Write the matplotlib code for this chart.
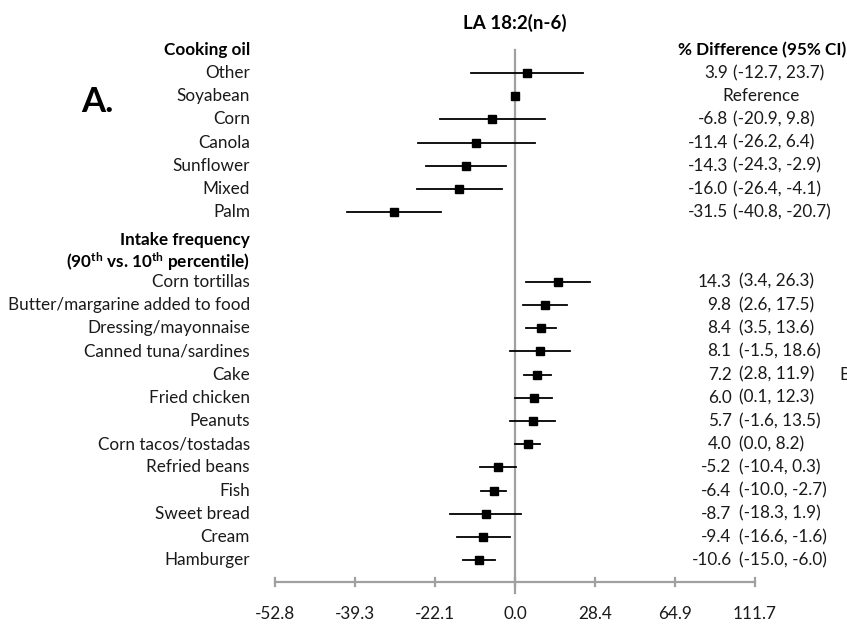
import numpy as np
import matplotlib.pyplot as plt

plt.rcParams['font.family'] = ['Lato', 'DejaVu Sans']
plt.rcParams['mathtext.default'] = 'regular'

# Cooking oil (Soyabean is the reference category)
oil_labels = ['Other', 'Soyabean', 'Corn', 'Canola', 'Sunflower', 'Mixed', 'Palm']
oil_est = [3.9, 0.0, -6.8, -11.4, -14.3, -16.0, -31.5]
oil_lo = [-12.7, None, -20.9, -26.2, -24.3, -26.4, -40.8]
oil_hi = [23.7, None, 9.8, 6.4, -2.9, -4.1, -20.7]

# Intake frequency, 90th vs. 10th percentile
food_labels = ['Corn tortillas', 'Butter/margarine added to food',
               'Dressing/mayonnaise', 'Canned tuna/sardines', 'Cake',
               'Fried chicken', 'Peanuts', 'Corn tacos/tostadas',
               'Refried beans', 'Fish', 'Sweet bread', 'Cream', 'Hamburger']
food_est = [14.3, 9.8, 8.4, 8.1, 7.2, 6.0, 5.7, 4.0, -5.2, -6.4, -8.7, -9.4, -10.6]
food_lo = [3.4, 2.6, 3.5, -1.5, 2.8, 0.1, -1.6, 0.0, -10.4, -10.0, -18.3, -16.6, -15.0]
food_hi = [26.3, 17.5, 13.6, 18.6, 11.9, 12.3, 13.5, 8.2, 0.3, -2.7, 1.9, -1.6, -6.0]

tick_logs = [-0.75, -0.5, -0.25, 0.0, 0.25, 0.5, 0.75]


def to_log(pct):
    # percent difference -> log ratio scale
    return np.log(1 + np.asarray(pct, dtype=float) / 100.0)


fig = plt.figure(figsize=(8.47, 6.26), dpi=100)
ax = fig.add_axes([0, 0, 1, 1])
ax.set_xlim(-1.609, 1.0375)
ax.set_ylim(23.836, -3.147)
ax.axis('off')

fs = 12.3
ink = '#1a1a1a'
label_x = -0.828
est_x_top, ci_x_top = 0.667, 0.68
est_x_bot, ci_x_bot = 0.677, 0.699

# reference line and x axis
ax.plot([0, 0], [-1.0, 22.4], color='#a0a0a0', lw=1.6, zorder=1)
axis_y = 21.94
ax.plot([tick_logs[0], tick_logs[-1]], [axis_y, axis_y], color='#a0a0a0', lw=1.6, zorder=1)
for t in tick_logs:
    ax.plot([t, t], [axis_y - 0.17, axis_y + 0.17], color='#a0a0a0', lw=1.6, zorder=1)
    pct = (np.exp(t) - 1) * 100
    ax.text(t, 23.3, f'{pct:.1f}', ha='center', va='center', fontsize=fs, color=ink)

# headers
ax.text(0, -2.15, 'LA 18:2(n-6)', ha='center', va='center', fontsize=13.5, fontweight='bold')
ax.text(label_x, -1.0, 'Cooking oil', ha='right', va='center', fontsize=fs, fontweight='bold')
ax.text(0.771, -1.0, '% Difference (95% CI)', ha='center', va='center', fontsize=fs, fontweight='bold')
ax.text(label_x, 7.2, 'Intake frequency', ha='right', va='center', fontsize=fs, fontweight='bold')
ax.text(label_x, 8.13, r'(90$^{th}$ vs. 10$^{th}$ percentile)', ha='right', va='center',
        fontsize=fs, fontweight='bold')
ax.text(-1.305, 1.25, 'A.', ha='center', va='center', fontsize=25, fontweight='bold')
ax.text(1.014, 13.0, 'B', ha='left', va='center', fontsize=fs, color=ink)

# cooking oil rows
for i, (lab, est, lo, hi) in enumerate(zip(oil_labels, oil_est, oil_lo, oil_hi)):
    ax.text(label_x, i, lab, ha='right', va='center', fontsize=fs, color=ink)
    if lo is not None:
        ax.plot(to_log([lo, hi]), [i, i], color='black', lw=1.3, zorder=2)
        ax.text(est_x_top, i, f'{est:.1f}', ha='right', va='center', fontsize=fs, color=ink)
        ax.text(ci_x_top, i, f'({lo:.1f}, {hi:.1f})', ha='left', va='center', fontsize=fs,
                color=ink)
    else:
        ax.text(0.768, i, 'Reference', ha='center', va='center', fontsize=fs, color=ink)
    ax.plot(to_log(est), i, marker='s', color='black', ms=6.4, zorder=3)

# intake frequency rows
for j, (lab, est, lo, hi) in enumerate(zip(food_labels, food_est, food_lo, food_hi)):
    y = 9 + j
    ax.text(label_x, y, lab, ha='right', va='center', fontsize=fs, color=ink)
    ax.plot(to_log([lo, hi]), [y, y], color='black', lw=1.3, zorder=2)
    ax.plot(to_log(est), y, marker='s', color='black', ms=6.4, zorder=3)
    ax.text(est_x_bot, y, f'{est:.1f}', ha='right', va='center', fontsize=fs, color=ink)
    ax.text(ci_x_bot, y, f'({lo:.1f}, {hi:.1f})', ha='left', va='center', fontsize=fs,
            color=ink)

fig.savefig('out.png', dpi=100)
